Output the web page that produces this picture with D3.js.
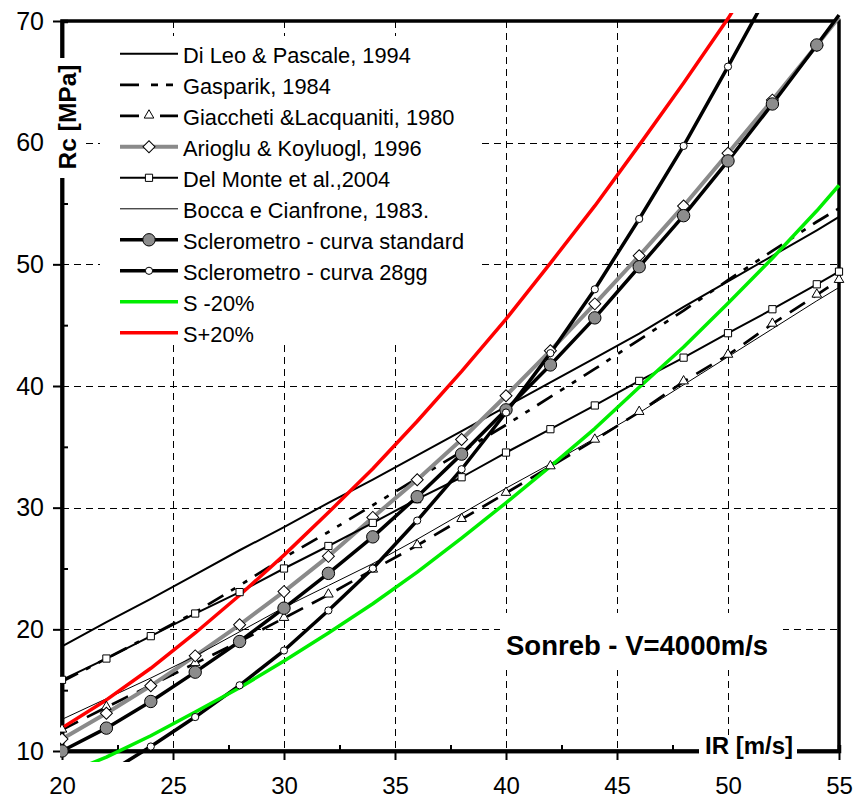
<!DOCTYPE html>
<html>
<head>
<meta charset="utf-8">
<script src="https://cdn.jsdelivr.net/npm/d3@7"></script>
<style>
  body { margin: 0; background: #fff; }
  svg { font-family: "Liberation Sans", Arial, sans-serif; }
</style>
</head>
<body>
<svg id="chart"></svg>
<script>

// x values (IR) where the curves have points
var irX = [20,22,24,26,28,30,32,34,36,38,40,42,44,46,48,50,52,54,55];

// Rc values
var diLeo     = [18.6,20.6,22.5,24.5,26.5,28.4,30.4,32.3,34.3,36.3,38.3,40.3,42.3,44.3,46.5,48.6,50.7,52.8,53.9];
var gasparik  = [15.7,17.6,19.5,21.4,23.6,25.9,28.0,30.2,32.4,34.6,36.8,39.1,41.4,43.8,46.2,48.7,51.1,53.5,54.6];
var giaccheti = [11.74,13.6,15.4,17.2,19.0,20.92,22.84,24.89,26.9,29.05,31.2,33.38,35.57,37.85,40.36,42.55,45.1,47.49,48.7];
var arioglu   = [10.98,13.1,15.36,17.82,20.37,23.1,26.0,29.2,32.3,35.6,39.2,42.9,46.75,50.7,54.8,59.13,63.5,68.0,70.3];
var delMonte  = [15.85,17.6,19.44,21.3,23.06,25.0,26.85,28.75,30.7,32.5,34.53,36.45,38.4,40.42,42.33,44.34,46.31,48.36,49.4];
var bocca     = [12.6,14.3,16.0,17.8,19.8,21.8,23.6,25.4,27.4,29.5,31.6,33.6,35.7,37.8,40.1,42.4,44.7,47.0,48.1];
var standard  = [10.0,11.88,14.07,16.48,19.0,21.74,24.6,27.6,30.9,34.4,38.04,41.73,45.6,49.8,54.0,58.5,63.18,68.03,70.5];
var curva28   = [null,8.1,10.37,12.79,15.4,18.26,21.55,25.0,28.94,33.16,37.82,42.7,47.95,53.73,59.73,66.25,72.9,null,null];
var minus20   = [8.0,9.5,11.25,13.2,15.2,17.4,19.7,22.1,24.7,27.5,30.4,33.4,36.5,39.9,43.2,46.8,50.5,54.4,56.5];
var plus20    = [11.9,14.2,16.8,19.7,22.8,26.1,29.6,33.2,37.1,41.2,45.5,50.1,54.8,59.8,64.9,70.2,76.0,null,null];

var xTicks = [20,25,30,35,40,45,50,55];
var yTicks = [10,20,30,40,50,60,70];
var xMinor = [22.5,27.5,32.5,37.5,42.5,47.5,52.5];
var yMinor = [15,25,35,45,55,65];

var names = ["Di Leo & Pascale, 1994","Gasparik, 1984","Giaccheti &Lacquaniti, 1980","Arioglu & Koyluogl, 1996",
             "Del Monte et al.,2004","Bocca e Cianfrone, 1983.","Sclerometro - curva standard","Sclerometro - curva 28gg",
             "S -20%","S+20%"];

// styles of each series (marker: none / tri / diamond / square / bigdot / smalldot)
var series = [
  {vals: diLeo,     color: "#000",    width: 2,   dash: null,              marker: null},
  {vals: gasparik,  color: "#000",    width: 2.7, dash: "18,9,5,9,5,9",    marker: null,      legDash: "19,12,7,8,7,8"},
  {vals: giaccheti, color: "#000",    width: 2.7, dash: "18,10",           marker: "tri",      last: true, legDash: "19,21,19"},
  {vals: arioglu,   color: "#8a8a8a", width: 4,   dash: null,              marker: "diamond"},
  {vals: delMonte,  color: "#000",    width: 2,   dash: null,              marker: "square",   last: true},
  {vals: bocca,     color: "#000",    width: 1,   dash: null,              marker: null},
  {vals: standard,  color: "#000",    width: 3.5, dash: null,              marker: "bigdot"},
  {vals: curva28,   color: "#000",    width: 3.5, dash: null,              marker: "smalldot"},
  {vals: minus20,   color: "#00ee00", width: 3.5, dash: null,              marker: null},
  {vals: plus20,    color: "#ff0000", width: 3.5, dash: null,              marker: null}
];

var W = 856, H = 800;
var svg = d3.select("#chart").attr("width", W).attr("height", H);

var x = d3.scaleLinear().domain([20,55]).range([62,839]);
var y = d3.scaleLinear().domain([10,70]).range([751,21]);

// grid (snapped to half pixels so the dashes stay crisp)
var grid = svg.append("g").attr("stroke", "#000").attr("stroke-width", 1).attr("stroke-dasharray", "7,5");
grid.selectAll(".gx").data(xTicks.slice(1,-1)).enter().append("line")
  .attr("x1", d => Math.round(x(d)) + 0.5).attr("x2", d => Math.round(x(d)) + 0.5).attr("y1", y(70)).attr("y2", y(10));
grid.selectAll(".gy").data(yTicks.slice(1,-1)).enter().append("line")
  .attr("x1", x(20)).attr("x2", x(55)).attr("y1", d => Math.round(y(d)) + 0.5).attr("y2", d => Math.round(y(d)) + 0.5);

// legend box hides the grid
svg.append("rect").attr("x", 100).attr("y", 36).attr("width", 377).attr("height", 309).attr("fill", "#fff");
// white box behind the Sonreb label
svg.append("rect").attr("x", 500).attr("y", 613).attr("width", 283).attr("height", 57).attr("fill", "#fff");

// frame
svg.append("rect").attr("x", x(20)).attr("y", y(70)).attr("width", x(55)-x(20)).attr("height", y(10)-y(70))
  .attr("fill", "none").attr("stroke", "#000").attr("stroke-width", 3.5);

// axes
var yAxis = svg.append("g").attr("transform", "translate(" + x(20) + ",0)")
  .call(d3.axisLeft(y).tickValues(yTicks).tickSize(9).tickSizeOuter(0).tickPadding(9));
var xAxis = svg.append("g").attr("transform", "translate(0," + y(10) + ")")
  .call(d3.axisBottom(x).tickValues(xTicks).tickSize(9).tickSizeOuter(0).tickPadding(17));
var yMin = svg.append("g").attr("transform", "translate(" + x(20) + ",0)")
  .call(d3.axisLeft(y).tickValues(yMinor).tickSize(-6).tickFormat(""));
var xMin = svg.append("g").attr("transform", "translate(0," + y(10) + ")")
  .call(d3.axisBottom(x).tickValues(xMinor).tickSize(-6).tickFormat(""));

[yAxis, xAxis, yMin, xMin].forEach(function(a){
  a.select(".domain").attr("stroke-width", 3.5);
  a.selectAll(".tick line").attr("stroke-width", 2);
  a.selectAll("text").attr("font-size", 24).attr("fill", "#000").attr("font-family", null);
});
yAxis.selectAll("text").attr("font-size", 25);

// axis titles with white boxes
svg.append("rect").attr("x", 52).attr("y", 58).attr("width", 33).attr("height", 120).attr("fill", "#fff");
svg.append("text").attr("transform", "translate(76,117) rotate(-90)")
  .attr("text-anchor", "middle").attr("font-weight", "bold").attr("font-size", 24.5).text("Rc [MPa]");

svg.append("rect").attr("x", 699).attr("y", 735).attr("width", 98).attr("height", 30).attr("fill", "#fff");
svg.append("text").attr("x", 749).attr("y", 754).attr("text-anchor", "middle")
  .attr("font-weight", "bold").attr("font-size", 24).text("IR [m/s]");

svg.append("text").attr("x", 506).attr("y", 655).attr("font-weight", "bold").attr("font-size", 27.5)
  .text("Sonreb - V=4000m/s");

// clip a bit outside the plot like the original
svg.append("clipPath").attr("id", "clip").append("rect")
  .attr("x", x(20) - 2).attr("y", 13).attr("width", x(55) - x(20) + 10).attr("height", 762 - 13);

var plot = svg.append("g").attr("clip-path", "url(#clip)");

var line = d3.line()
  .defined(d => d[1] != null)
  .x(d => x(d[0])).y(d => y(d[1]));

// lines first (Excel draws markers over all lines)
series.forEach(function(s){
  var pts = irX.map((v,i) => [v, s.vals[i]]);
  plot.append("path").datum(pts)
    .attr("d", line)
    .attr("fill", "none")
    .attr("stroke", s.color)
    .attr("stroke-width", s.width)
    .attr("stroke-dasharray", s.dash)
    .attr("stroke-linejoin", "round");
});

function drawMarker(g, type, cx, cy){
  if (type == "tri") {
    g.append("path").attr("d", d3.symbol().type(d3.symbolTriangle).size(40)())
      .attr("transform", "translate(" + cx + "," + (cy - 0.5) + ")")
      .attr("fill", "#fff").attr("stroke", "#000").attr("stroke-width", 1);
  } else if (type == "diamond") {
    g.append("path").attr("d", d3.symbol().type(d3.symbolSquare).size(72)())
      .attr("transform", "translate(" + cx + "," + cy + ") rotate(45)")
      .attr("fill", "#fff").attr("stroke", "#000").attr("stroke-width", 1);
  } else if (type == "square") {
    g.append("path").attr("d", d3.symbol().type(d3.symbolSquare).size(52)())
      .attr("transform", "translate(" + cx + "," + cy + ")")
      .attr("fill", "#fff").attr("stroke", "#000").attr("stroke-width", 1);
  } else if (type == "bigdot") {
    g.append("circle").attr("cx", cx).attr("cy", cy).attr("r", 6.2)
      .attr("fill", "#8c8c8c").attr("stroke", "#000").attr("stroke-width", 1);
  } else if (type == "smalldot") {
    g.append("circle").attr("cx", cx).attr("cy", cy).attr("r", 3.6)
      .attr("fill", "#fff").attr("stroke", "#000").attr("stroke-width", 1);
  }
}

series.forEach(function(s){
  if (!s.marker) return;
  irX.forEach(function(v,i){
    if (s.vals[i] == null) return;
    if (v % 2 != 0 && !s.last) return;
    drawMarker(plot, s.marker, x(v), y(s.vals[i]));
  });
});

// legend
var leg = svg.append("g");
names.forEach(function(n,i){
  var s = series[i];
  var by = 63.3 + i * 31;
  var ly = by - 9.5;
  leg.append("line").attr("x1", 120).attr("x2", 178).attr("y1", ly).attr("y2", ly)
    .attr("stroke", s.color).attr("stroke-width", s.width)
    .attr("stroke-dasharray", s.legDash || null);
  if (s.marker) drawMarker(leg, s.marker, 149, ly);
  leg.append("text").attr("x", 183).attr("y", by).attr("font-size", 21.8).text(n);
});

</script>
</body>
</html>
